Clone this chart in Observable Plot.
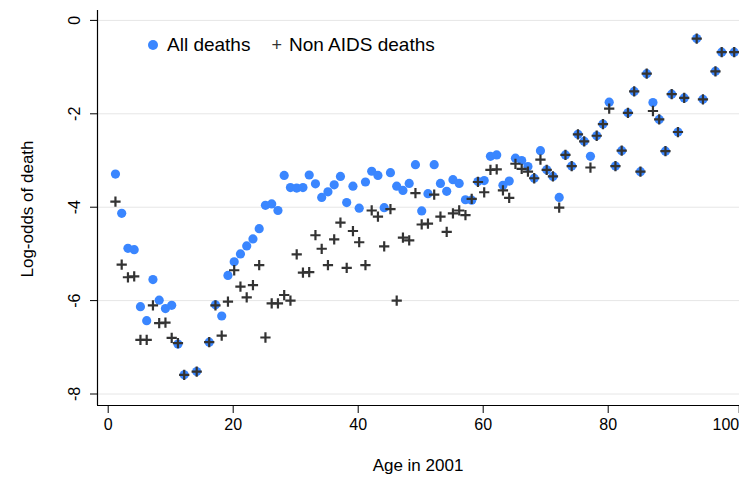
<!DOCTYPE html>
<html><head><meta charset="utf-8">
<script src="https://cdn.jsdelivr.net/npm/d3@7"></script>
<script src="https://cdn.jsdelivr.net/npm/@observablehq/plot@0.6"></script>
<style>
body{margin:0;background:#fff;}
#wrap{position:relative;width:739px;height:487px;font-family:"Liberation Sans",Arial,sans-serif;color:#000;overflow:hidden;}
#legend{position:absolute;left:148px;top:33px;font-size:19px;display:flex;align-items:center;height:24px;}
#legend .dot{display:inline-block;width:10px;height:10px;border-radius:50%;background:#3a86ff;margin-right:9px;}
#legend .plus{display:inline-block;margin-left:21px;margin-right:7px;font-size:18px;color:#333;}
#ylab{position:absolute;left:28px;top:209px;transform:translate(-50%,-50%) rotate(-90deg);font-size:17px;white-space:nowrap;}
#xlab{position:absolute;left:418px;top:466px;transform:translate(-50%,-50%);font-size:17px;white-space:nowrap;}
</style></head><body><div id="wrap"></div>
<script>
const ages = [1,2,3,4,5,6,7,8,9,10,11,12,14,16,17,18,19,20,21,22,23,24,25,26,27,28,29,30,31,32,33,34,35,36,37,38,39,40,41,42,43,44,45,46,47,48,49,50,51,52,53,54,55,56,57,58,59,60,61,62,63,64,65,66,67,68,69,70,71,72,73,74,75,76,77,78,79,80,81,82,83,84,85,86,87,88,89,90,91,92,94,95,97,98,100];
const allDeaths = [-3.29,-4.13,-4.88,-4.91,-6.13,-6.43,-5.55,-5.99,-6.17,-6.10,-6.93,-7.59,-7.52,-6.89,-6.09,-6.33,-5.46,-5.17,-5.00,-4.83,-4.68,-4.46,-3.96,-3.93,-4.07,-3.32,-3.58,-3.59,-3.58,-3.31,-3.50,-3.79,-3.67,-3.52,-3.34,-3.90,-3.55,-4.02,-3.46,-3.23,-3.32,-4.01,-3.26,-3.55,-3.64,-3.49,-3.09,-4.08,-3.71,-3.09,-3.49,-3.66,-3.41,-3.49,-3.84,-3.85,-3.45,-3.43,-2.91,-2.88,-3.53,-3.44,-2.95,-3.00,-3.13,-3.38,-2.79,-3.20,-3.34,-3.79,-2.88,-3.12,-2.44,-2.59,-2.91,-2.47,-2.22,-1.75,-3.12,-2.79,-1.98,-1.52,-3.24,-1.14,-1.76,-2.12,-2.80,-1.58,-2.39,-1.66,-0.39,-1.69,-1.09,-0.68,-0.68];
const nonAidsDeaths = [-3.88,-5.23,-5.50,-5.48,-6.84,-6.84,-6.10,-6.48,-6.47,-6.80,-6.91,-7.59,-7.52,-6.89,-6.10,-6.75,-6.02,-5.35,-5.70,-5.93,-5.67,-5.24,-6.79,-6.06,-6.06,-5.88,-6.00,-5.01,-5.40,-5.39,-4.60,-4.89,-5.24,-4.69,-4.33,-5.30,-4.51,-4.75,-5.24,-4.07,-4.20,-4.84,-4.04,-6.00,-4.65,-4.71,-3.70,-4.37,-4.35,-3.73,-4.20,-4.53,-4.13,-4.07,-4.17,-3.82,-3.46,-3.68,-3.20,-3.19,-3.64,-3.80,-3.07,-3.18,-3.24,-3.38,-2.98,-3.20,-3.34,-4.01,-2.88,-3.12,-2.44,-2.59,-3.15,-2.47,-2.22,-1.89,-3.12,-2.79,-1.98,-1.52,-3.24,-1.14,-1.94,-2.12,-2.80,-1.58,-2.39,-1.66,-0.39,-1.69,-1.09,-0.68,-0.68];
const xTicks = [0,20,40,60,80];
const xLastTick = [100];
const yTicks = [0,-2,-4,-6,-8];
const xDomain = [-1.872, 100.848];
const yDomain = [-8.246, 0.212];

const allRows = ages.map((a,i)=>({age:a, v:allDeaths[i]}));
const nonRows = ages.map((a,i)=>({age:a, v:nonAidsDeaths[i]}));

const chart = Plot.plot({
  width: 739, height: 487,
  marginLeft: 97, marginRight: 0, marginTop: 10, marginBottom: 82,
  style: {fontFamily: '"Liberation Sans", Arial, sans-serif', fontSize: "16px", color: "#000", background: "#fff"},
  x: {domain: xDomain},
  y: {domain: yDomain},
  marks: [
    Plot.gridY(yTicks, {stroke: "#e6e6e6", strokeOpacity: 1, strokeWidth: 1}),
    Plot.ruleX([xDomain[0]], {stroke: "#000", strokeWidth: 1.2}),
    Plot.ruleY([yDomain[0]], {stroke: "#000", strokeWidth: 1.2}),
    Plot.axisX(xTicks, {tickSize: 8, tickPadding: 5, fontSize: 16, label: null, stroke: "#000", dx: -1}),
    Plot.axisX(xLastTick, {tickSize: 8, tickPadding: 5, fontSize: 16, label: null, stroke: "#000", textAnchor: "end", dx: 5}),
    Plot.axisY(yTicks, {tickSize: 7, tickPadding: 11, fontSize: 16, tickRotate: -90, label: null, stroke: "#000", tickFormat: d => String(d)}),
    Plot.dot(allRows, {x: "age", y: "v", r: 4.6, fill: "#3a86ff", stroke: "none"}),
    Plot.dot(nonRows, {x: "age", y: "v", symbol: "plus", r: 3.4, stroke: "#333", strokeWidth: 2.2})
  ]
});
const wrap = document.getElementById("wrap");
wrap.appendChild(chart);
const leg = document.createElement("div");
leg.id = "legend";
leg.innerHTML = '<span class="dot"></span><span>All deaths</span><span class="plus">+</span><span>Non AIDS deaths</span>';
wrap.appendChild(leg);
const yl = document.createElement("div"); yl.id = "ylab"; yl.textContent = "Log-odds of death"; wrap.appendChild(yl);
const xl = document.createElement("div"); xl.id = "xlab"; xl.textContent = "Age in 2001"; wrap.appendChild(xl);
</script>
</body></html>
